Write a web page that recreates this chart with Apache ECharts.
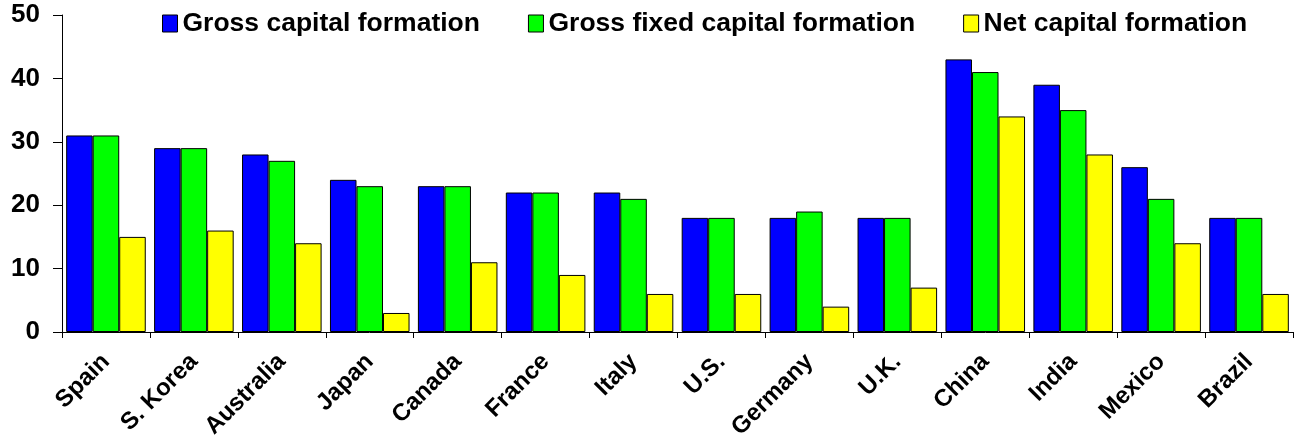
<!DOCTYPE html>
<html>
<head>
<meta charset="utf-8">
<script src="https://cdn.jsdelivr.net/npm/echarts@6/dist/echarts.min.js"></script>
<style>
  html, body { margin: 0; padding: 0; background: #fff; }
  #main { width: 1299px; height: 448px; }
</style>
</head>
<body>
<div id="main"></div>
<script>
var countries = ['Spain', 'S. Korea', 'Australia', 'Japan', 'Canada', 'France', 'Italy',
  'U.S.', 'Germany', 'U.K.', 'China', 'India', 'Mexico', 'Brazil'];
var grossCapital = [31, 29, 28, 24, 23, 22, 22, 18, 18, 18, 43, 39, 26, 18];
var grossFixed = [31, 29, 27, 23, 23, 22, 21, 18, 19, 18, 41, 35, 21, 18];
var netCapital = [15, 16, 14, 3, 11, 9, 6, 6, 4, 7, 34, 28, 14, 6];
var yTicks = [0, 10, 20, 30, 40, 50];

var font = 'Arial, "Liberation Sans", sans-serif';

function bar(name, data, color) {
  return {
    name: name,
    type: 'bar',
    data: data,
    barGap: '0%',
    barCategoryGap: '9.5%',
    itemStyle: { color: color, borderColor: '#000', borderWidth: 1 }
  };
}

var chart = echarts.init(document.getElementById('main'));
var option = {
  animation: false,
  textStyle: { fontFamily: font },
  legend: {
    top: 5,
    left: 157,
    itemGap: 48,
    itemWidth: 15,
    itemHeight: 17,
    icon: 'rect',
    itemStyle: { borderColor: '#000', borderWidth: 1 },
    textStyle: { fontSize: 26.5, fontWeight: 'bold', color: '#000', fontFamily: font },
    data: ['Gross capital formation', 'Gross fixed capital formation', 'Net capital formation']
  },
  grid: { left: 62, right: 6, top: 15, bottom: 116 },
  xAxis: {
    type: 'category',
    data: countries,
    axisLine: { lineStyle: { color: '#000', width: 1 } },
    axisTick: { show: true, alignWithLabel: false, length: 6, lineStyle: { color: '#000' } },
    axisLabel: {
      rotate: 45,
      interval: 0,
      margin: 26,
      color: '#000',
      fontSize: 24,
      fontWeight: 'bold',
      fontFamily: font
    }
  },
  yAxis: {
    type: 'value',
    min: yTicks[0],
    max: yTicks[yTicks.length - 1],
    interval: 10,
    splitLine: { show: false },
    axisLine: { show: true, lineStyle: { color: '#000', width: 1 } },
    axisTick: { show: true, length: 9, lineStyle: { color: '#000' } },
    axisLabel: {
      margin: 22,
      color: '#000',
      fontSize: 26,
      fontWeight: 'bold',
      fontFamily: font
    }
  },
  series: [
    bar('Gross capital formation', grossCapital, '#0000ff'),
    bar('Gross fixed capital formation', grossFixed, '#00ff00'),
    bar('Net capital formation', netCapital, '#ffff00')
  ]
};
chart.setOption(option);
window.onresize = chart.resize;
</script>
</body>
</html>
